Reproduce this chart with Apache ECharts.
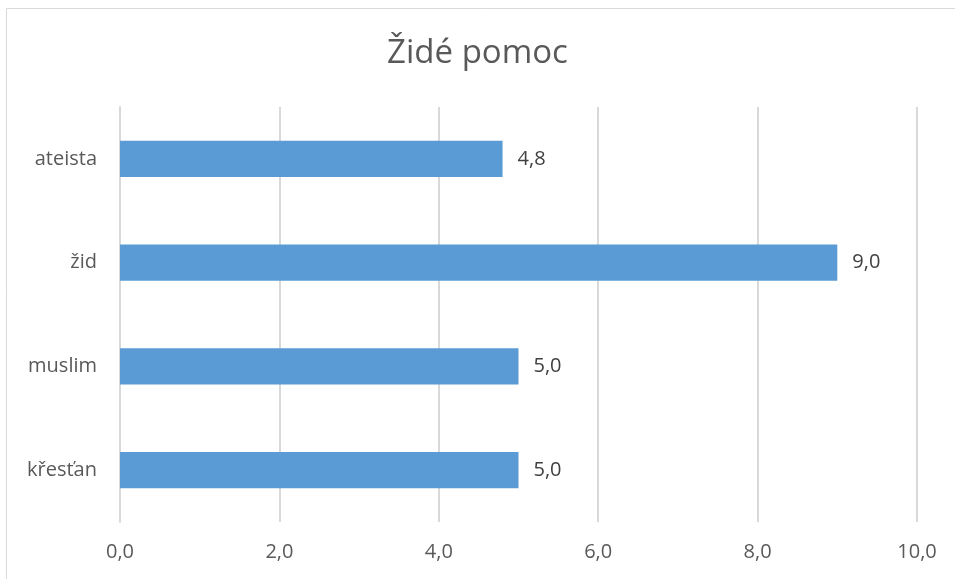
<!DOCTYPE html>
<html>
<head>
<meta charset="utf-8">
<script src="https://cdn.jsdelivr.net/npm/echarts@6/dist/echarts.min.js"></script>
<style>
html,body{margin:0;padding:0;background:#fff;}
#c{width:955px;height:579px;}
</style>
</head>
<body>
<div id="c"></div>
<script>
const titleText = "Židé pomoc";
const categories = ["křesťan", "muslim", "žid", "ateista"];
const values = [5.0, 5.0, 9.0, 4.8];
const xTicks = [0, 2, 4, 6, 8, 10];

const fmt = v => Number(v).toFixed(1).replace('.', ',');
const font = "'Open Sans', 'Noto Sans', sans-serif";

const chart = echarts.init(document.getElementById('c'), null, {renderer: 'canvas'});
chart.setOption({
  animation: false,
  backgroundColor: '#ffffff',
  graphic: [{
    type: 'rect',
    shape: {x: 6.5, y: 8.5, width: 1000, height: 700},
    style: {fill: 'none', stroke: '#d9d9d9', lineWidth: 1},
    silent: true, z: -1
  }],
  title: {
    text: titleText,
    left: 'center',
    top: 32,
    textStyle: {fontFamily: font, fontSize: 33, fontWeight: 'normal', color: '#595959'}
  },
  grid: {left: 120, right: 38, top: 107, bottom: 57, containLabel: false},
  xAxis: {
    type: 'value',
    min: xTicks[0],
    max: xTicks[xTicks.length - 1],
    interval: 2,
    axisLine: {show: false},
    axisTick: {show: false},
    splitLine: {show: true, lineStyle: {color: '#d9d9d9', width: 2}},
    axisLabel: {formatter: fmt, color: '#595959', fontSize: 20, fontFamily: font, margin: 20}
  },
  yAxis: {
    type: 'category',
    data: categories,
    axisLine: {show: true, lineStyle: {color: '#d9d9d9', width: 2}},
    axisTick: {show: false},
    axisLabel: {color: '#595959', fontSize: 20, fontFamily: font, margin: 23}
  },
  series: [{
    type: 'bar',
    data: values,
    barWidth: '35%',
    itemStyle: {color: '#5b9bd5'},
    label: {
      show: true,
      position: 'right',
      distance: 15,
      formatter: p => fmt(p.value),
      color: '#404040',
      fontSize: 20,
      fontFamily: font
    }
  }]
});
</script>
</body>
</html>
